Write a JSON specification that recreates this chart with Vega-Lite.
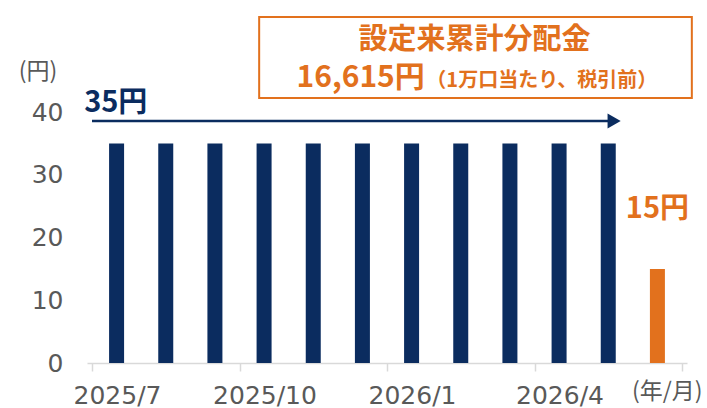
{
  "$schema": "https://vega.github.io/schema/vega-lite/v6.json",
  "width": 600,
  "height": 251,
  "autosize": {"type": "none"},
  "padding": {"left": 87, "top": 112, "right": 20, "bottom": 45},
  "config": {"view": {"stroke": null}, "font": "Noto Sans CJK JP"},
  "layer": [
    {
      "data": {"values": [
        {"month": "2025/7", "i": 0, "value": 35, "kind": "過去"},
        {"month": "2025/8", "i": 1, "value": 35, "kind": "過去"},
        {"month": "2025/9", "i": 2, "value": 35, "kind": "過去"},
        {"month": "2025/10", "i": 3, "value": 35, "kind": "過去"},
        {"month": "2025/11", "i": 4, "value": 35, "kind": "過去"},
        {"month": "2025/12", "i": 5, "value": 35, "kind": "過去"},
        {"month": "2026/1", "i": 6, "value": 35, "kind": "過去"},
        {"month": "2026/2", "i": 7, "value": 35, "kind": "過去"},
        {"month": "2026/3", "i": 8, "value": 35, "kind": "過去"},
        {"month": "2026/4", "i": 9, "value": 35, "kind": "過去"},
        {"month": "2026/5", "i": 10, "value": 35, "kind": "過去"},
        {"month": "2026/6", "i": 11, "value": 15, "kind": "直近"}
      ]},
      "mark": {"type": "bar", "width": 15},
      "encoding": {
        "x": {
          "field": "i", "type": "quantitative",
          "scale": {"domain": [-0.5, 11.5], "nice": false, "zero": false},
          "axis": {
            "title": null,
            "values": [-0.5, 2.5, 5.5, 8.5, 11.5],
            "labelExpr": "datum.value == -0.5 ? '2025/7' : datum.value == 2.5 ? '2025/10' : datum.value == 5.5 ? '2026/1' : datum.value == 8.5 ? '2026/4' : ''",
            "labelOffset": 25,
            "grid": false,
            "domainColor": "#D9D9D9", "domainWidth": 1.5,
            "tickColor": "#D9D9D9", "tickWidth": 1.5, "tickSize": 8,
            "labelFont": "DejaVu Sans", "labelFontSize": 25, "labelColor": "#595959", "labelPadding": 12,
            "labelOverlap": false, "labelFlush": false, "labelBound": false
          }
        },
        "y": {
          "field": "value", "type": "quantitative",
          "scale": {"domain": [0, 40], "nice": false},
          "axis": {
            "title": null, "values": [0, 10, 20, 30, 40],
            "grid": false, "domain": false, "ticks": false,
            "labelFont": "DejaVu Sans", "labelFontSize": 25, "labelColor": "#595959", "labelPadding": 24
          }
        },
        "color": {
          "field": "kind", "type": "nominal",
          "scale": {"domain": ["過去", "直近"], "range": ["#0B2C5F", "#E2711D"]},
          "legend": null
        }
      }
    },
    {
      "data": {"values": [{}]},
      "mark": {"type": "rule", "color": "#0B2C5F", "strokeWidth": 2.5},
      "encoding": {
        "x": {"datum": -0.5, "type": "quantitative"},
        "x2": {"datum": 10.0},
        "y": {"datum": 38.57, "type": "quantitative"}
      }
    },
    {
      "data": {"values": [{}]},
      "mark": {"type": "point", "shape": "triangle-right", "filled": true, "size": 230, "color": "#0B2C5F", "opacity": 1},
      "encoding": {
        "x": {"datum": 10.12, "type": "quantitative"},
        "y": {"datum": 38.57, "type": "quantitative"}
      }
    },
    {
      "data": {"values": [{}]},
      "mark": {"type": "rect", "fill": "white", "stroke": "#E2711D", "strokeWidth": 2},
      "encoding": {
        "x": {"datum": 2.9, "type": "quantitative"},
        "x2": {"datum": 11.7},
        "y": {"datum": 42.23, "type": "quantitative"},
        "y2": {"datum": 55.14}
      }
    },
    {
      "data": {"values": [{"t": "設定来累計分配金"}]},
      "mark": {"type": "text", "fontSize": 29, "fontWeight": "bold", "color": "#E2711D", "align": "center", "baseline": "middle"},
      "encoding": {
        "x": {"datum": 7.28, "type": "quantitative"},
        "y": {"datum": 51.4, "type": "quantitative"},
        "text": {"field": "t"}
      }
    },
    {
      "data": {"values": [{"t": "16,615円"}]},
      "mark": {"type": "text", "fontSize": 30, "fontWeight": "bold", "color": "#E2711D", "align": "left", "baseline": "alphabetic"},
      "encoding": {
        "x": {"datum": 3.66, "type": "quantitative"},
        "y": {"datum": 44.0, "type": "quantitative"},
        "text": {"field": "t"}
      }
    },
    {
      "data": {"values": [{"t": "（1万口当たり、税引前）"}]},
      "mark": {"type": "text", "fontSize": 20, "fontWeight": "bold", "color": "#E2711D", "align": "left", "baseline": "alphabetic"},
      "encoding": {
        "x": {"datum": 6.3, "type": "quantitative"},
        "y": {"datum": 44.0, "type": "quantitative"},
        "text": {"field": "t"}
      }
    },
    {
      "data": {"values": [{"t": "35円"}]},
      "mark": {"type": "text", "fontSize": 29, "fontWeight": "bold", "color": "#0B2C5F", "align": "left", "baseline": "middle"},
      "encoding": {
        "x": {"datum": -0.66, "type": "quantitative"},
        "y": {"datum": 41.5, "type": "quantitative"},
        "text": {"field": "t"}
      }
    },
    {
      "data": {"values": [{"t": "15円"}]},
      "mark": {"type": "text", "fontSize": 29, "fontWeight": "bold", "color": "#E2711D", "align": "center", "baseline": "middle"},
      "encoding": {
        "x": {"datum": 11.0, "type": "quantitative"},
        "y": {"datum": 24.5, "type": "quantitative"},
        "text": {"field": "t"}
      }
    },
    {
      "data": {"values": [{"t": "(円)"}]},
      "mark": {"type": "text", "fontSize": 23, "color": "#595959", "align": "center", "baseline": "middle"},
      "encoding": {
        "x": {"datum": -1.6, "type": "quantitative"},
        "y": {"datum": 46.45, "type": "quantitative"},
        "text": {"field": "t"}
      }
    },
    {
      "data": {"values": [{"t": "(年/月)"}]},
      "mark": {"type": "text", "fontSize": 23, "color": "#595959", "align": "center", "baseline": "middle"},
      "encoding": {
        "x": {"datum": 11.2, "type": "quantitative"},
        "y": {"datum": -4.7, "type": "quantitative"},
        "text": {"field": "t"}
      }
    }
  ]
}
